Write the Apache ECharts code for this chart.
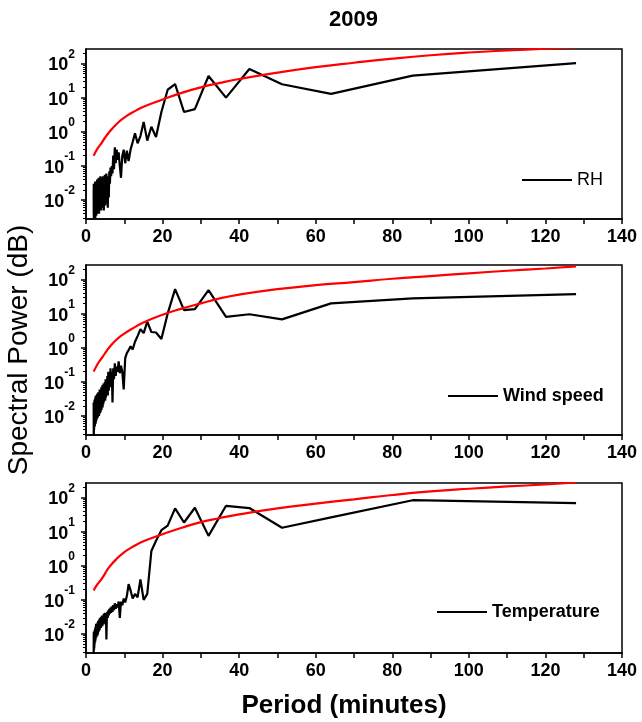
<!DOCTYPE html>
<html><head><meta charset="utf-8">
<script src="https://cdn.jsdelivr.net/npm/echarts@6/dist/echarts.min.js"></script>
<style>html,body{margin:0;padding:0;background:#fff}#c{width:642px;height:722px}</style>
</head><body><div id="c"></div>
<script>
// Periods (minutes)
const periods = [
  2.00,2.02,2.03,2.05,2.06,2.08,2.10,2.12,2.13,2.15,
  2.17,2.19,2.21,2.23,2.25,2.27,2.29,2.31,2.33,2.35,
  2.37,2.39,2.42,2.44,2.46,2.49,2.51,2.53,2.56,2.59,
  2.61,2.64,2.67,2.69,2.72,2.75,2.78,2.81,2.84,2.88,
  2.91,2.94,2.98,3.01,3.05,3.08,3.12,3.16,3.20,3.24,
  3.28,3.32,3.37,3.41,3.46,3.51,3.56,3.61,3.66,3.71,
  3.76,3.82,3.88,3.94,4.00,4.06,4.13,4.20,4.27,4.34,
  4.41,4.49,4.57,4.65,4.74,4.83,4.92,5.02,5.12,5.22,
  5.33,5.45,5.57,5.69,5.82,5.95,6.10,6.24,6.40,6.56,
  6.74,6.92,7.11,7.31,7.53,7.76,8.00,8.26,8.53,8.83,
  9.14,9.48,9.85,10.24,10.67,11.13,11.64,12.19,12.80,13.47,
  14.22,15.06,16.00,17.07,18.29,19.69,21.33,23.27,25.60,28.44,
  32.00,36.57,42.67,51.20,64.00,85.33,128.00
];
const rhPower = [
  0.02,0.004,0.03,0.003,0.012,0.0035,0.025,0.005,0.015,0.003,
  0.028,0.004,0.01,0.0032,0.022,0.006,0.03,0.0035,0.018,0.005,
  0.035,0.004,0.012,0.003,0.025,0.007,0.03,0.0045,0.02,0.004,
  0.03,0.005,0.015,0.0035,0.028,0.006,0.035,0.004,0.02,0.006,
  0.04,0.005,0.018,0.004,0.03,0.007,0.025,0.0045,0.035,0.006,
  0.045,0.005,0.02,0.004,0.03,0.008,0.04,0.005,0.025,0.007,
  0.05,0.006,0.025,0.005,0.035,0.008,0.045,0.006,0.03,0.009,
  0.05,0.007,0.03,0.005,0.04,0.009,0.055,0.007,0.035,0.01,
  0.06,0.008,0.04,0.006,0.05,0.012,0.07,0.03,0.09,0.05,
  0.1,0.06,0.2,0.08,0.35,0.12,0.3,0.15,0.25,0.1,
  0.045,0.2,0.3,0.12,0.28,0.14,0.3,0.5,0.9,0.46,
  0.75,1.95,0.55,1.4,0.7,3.8,17,24.7,3.8,4.6,
  43,10,69,24.7,12.9,44,102
];
const windPower = [
  0.025,0.003,0.015,0.0025,0.02,0.005,0.012,0.004,0.025,0.006,
  0.018,0.005,0.03,0.006,0.02,0.007,0.025,0.005,0.03,0.007,
  0.02,0.006,0.035,0.007,0.025,0.008,0.03,0.006,0.04,0.008,
  0.025,0.007,0.035,0.008,0.03,0.01,0.04,0.008,0.03,0.01,
  0.045,0.009,0.03,0.01,0.04,0.009,0.035,0.012,0.05,0.01,
  0.04,0.012,0.05,0.01,0.045,0.015,0.06,0.012,0.05,0.016,
  0.06,0.013,0.05,0.017,0.07,0.015,0.06,0.02,0.08,0.018,
  0.07,0.022,0.09,0.025,0.08,0.03,0.1,0.028,0.12,0.035,
  0.1,0.045,0.15,0.04,0.2,0.055,0.18,0.07,0.25,0.09,
  0.2,0.025,0.25,0.12,0.35,0.15,0.28,0.2,0.4,0.18,
  0.3,0.2,0.06,0.5,0.7,0.85,1.1,0.9,1.5,2.2,
  3.5,2.7,5.8,2.9,2.8,1.8,10,52,12.6,13.5,
  49,8,9.6,6.8,20,28,37
];
const tempPower = [
  0.0025,0.01,0.004,0.012,0.005,0.008,0.0035,0.011,0.005,0.009,
  0.004,0.012,0.006,0.01,0.005,0.013,0.007,0.011,0.006,0.014,
  0.007,0.013,0.006,0.016,0.008,0.012,0.007,0.015,0.009,0.018,
  0.008,0.02,0.009,0.016,0.008,0.019,0.01,0.017,0.009,0.02,
  0.01,0.018,0.009,0.022,0.011,0.02,0.01,0.024,0.012,0.02,
  0.013,0.025,0.012,0.022,0.014,0.028,0.013,0.024,0.015,0.03,
  0.016,0.027,0.015,0.032,0.017,0.03,0.018,0.035,0.017,0.03,
  0.02,0.035,0.019,0.04,0.022,0.036,0.02,0.042,0.024,0.04,
  0.007,0.035,0.045,0.03,0.05,0.035,0.055,0.04,0.06,0.042,
  0.065,0.045,0.07,0.05,0.08,0.055,0.075,0.06,0.09,0.03,
  0.09,0.07,0.11,0.085,0.13,0.29,0.19,0.11,0.15,0.12,
  0.4,0.1,0.15,2.7,5.4,11,15,48,18.5,50,
  7.5,57,49,13,26,83,68
];
// Red reference curves
const redPeriods = [2,3,4,5,6,8,10,12,15,20,25,30,35,40,50,60,70,80,90,100,110,120,128];
const rhRed   = [0.2,0.32,0.46,0.68,0.95,1.7,2.6,3.6,5.4,8.8,13.8,20,27,35,54,78,105,138,174,209,240,270,300];
const windRed = [0.2,0.33,0.48,0.7,1.0,1.75,2.6,3.6,5.5,9.3,14,20,28,36,52,68,84,105,126,151,180,209,240];
const tempRed = [0.19,0.29,0.4,0.6,0.9,1.6,2.5,3.5,5.2,8.4,13,19,25,32,48,66,88,118,150,180,210,240,275];

const seriesNames = ['RH','Wind speed','Temperature'];
const blackData = [rhPower, windPower, tempPower];
const redData = [rhRed, windRed, tempRed];

const FONT = '"Liberation Sans", Arial, sans-serif';
const yMin = 0.0028, yMax = 265;
const gridTops = [49, 265, 483];
const legendPos = [[522,171],[448,387],[437,603]];

const minorVals = [];
for (let d = -3; d <= 2; d++) for (let m = 2; m <= 9; m++) {
  const v = m * Math.pow(10, d);
  if (v > yMin && v < yMax) minorVals.push(Math.log10(v));
}

const axisLineStyle = {color:'#000', width:1.5};
const grids = [], xAxes = [], yAxes = [], series = [], legends = [];
for (let i = 0; i < 3; i++) {
  grids.push({left:86, right:20, top:gridTops[i], height:170, show:true, outerBoundsMode:'none',
    containLabel:false, borderColor:'#000', borderWidth:1.5, backgroundColor:'transparent'});
  const xa = {gridIndex:i, type:'value', min:0, max:140, interval:10,
    axisLine:{onZero:false, lineStyle:axisLineStyle},
    axisTick:{length:5, lineStyle:{color:'#000', width:1.5}},
    axisLabel:{formatter:v => (v % 20 === 0 ? String(v) : ''), fontSize:18, fontWeight:'bold',
      color:'#000', margin:9, fontFamily:FONT},
    splitLine:{show:false}};
  if (i === 2) {
    Object.assign(xa, {name:'Period (minutes)', nameLocation:'middle', nameGap:40,
      nameTextStyle:{fontSize:26, fontWeight:'bold', color:'#000', fontFamily:FONT, padding:[0,20,0,0]}});
  }
  xAxes.push(xa);
  const ya = {gridIndex:i, type:'log', logBase:10, min:yMin, max:yMax, position:'left',
    axisLine:{show:true, lineStyle:axisLineStyle},
    axisTick:{show:true, length:5, lineStyle:{color:'#000', width:1.5}},
    axisLabel:{showMinLabel:false, showMaxLabel:false, margin:11, padding:[0,0,4,0],
      formatter:function(v){
        const l = Math.log10(v), e = Math.round(l);
        if (Math.abs(l - e) > 1e-6) return '';
        return '{b|10}{s|' + e + '}{h| }';
      },
      rich:{
        b:{fontSize:18, fontWeight:'bold', color:'#000', fontFamily:FONT, lineHeight:18, verticalAlign:'bottom'},
        s:{fontSize:12, fontWeight:'bold', color:'#000', fontFamily:FONT, lineHeight:12, verticalAlign:'top'},
        h:{fontSize:1, lineHeight:26, width:0, verticalAlign:'middle'}
      }},
    splitLine:{show:false}, minorTick:{show:false}};
  if (i === 1) {
    Object.assign(ya, {name:'Spectral Power (dB)', nameLocation:'middle', nameGap:52, nameRotate:90,
      nameTextStyle:{fontSize:28, fontWeight:'normal', color:'#000', fontFamily:FONT}});
  }
  yAxes.push(ya);
  yAxes.push({gridIndex:i, type:'value', min:Math.log10(yMin), max:Math.log10(yMax), position:'left', offset:0,
    axisLine:{show:false}, axisLabel:{show:false}, splitLine:{show:false},
    axisTick:{show:true, length:3, customValues:minorVals, lineStyle:{color:'#000', width:1}}});

  series.push({type:'line', name:seriesNames[i], xAxisIndex:i, yAxisIndex:2*i,
    data:periods.map((x, j) => [x, blackData[i][j]]),
    symbol:'none', lineStyle:{color:'#000', width:2.2}, itemStyle:{color:'#000'}, z:2});
  series.push({type:'line', name:seriesNames[i] + ' limit', xAxisIndex:i, yAxisIndex:2*i,
    data:redPeriods.map((x, j) => [x, redData[i][j]]), smooth:true,
    symbol:'none', lineStyle:{color:'#ff0000', width:2.2}, itemStyle:{color:'#ff0000'}, z:3});

  legends.push({data:[seriesNames[i]], left:legendPos[i][0], top:legendPos[i][1], padding:0,
    icon:'rect', itemWidth:50, itemHeight:2, selectedMode:false, itemStyle:{color:'#000'},
    textStyle:{fontSize:18, fontWeight:(i === 0 ? 'normal' : 'bold'), color:'#000', fontFamily:FONT}});
}

const chart = echarts.init(document.getElementById('c'));
chart.setOption({
  animation:false,
  backgroundColor:'#fff',
  textStyle:{fontFamily:FONT},
  title:{text:'2009', left:324, top:4, textStyle:{fontSize:22, fontWeight:'bold', color:'#000', fontFamily:FONT}},
  legend:legends,
  grid:grids, xAxis:xAxes, yAxis:yAxes, series:series
});
</script></body></html>
